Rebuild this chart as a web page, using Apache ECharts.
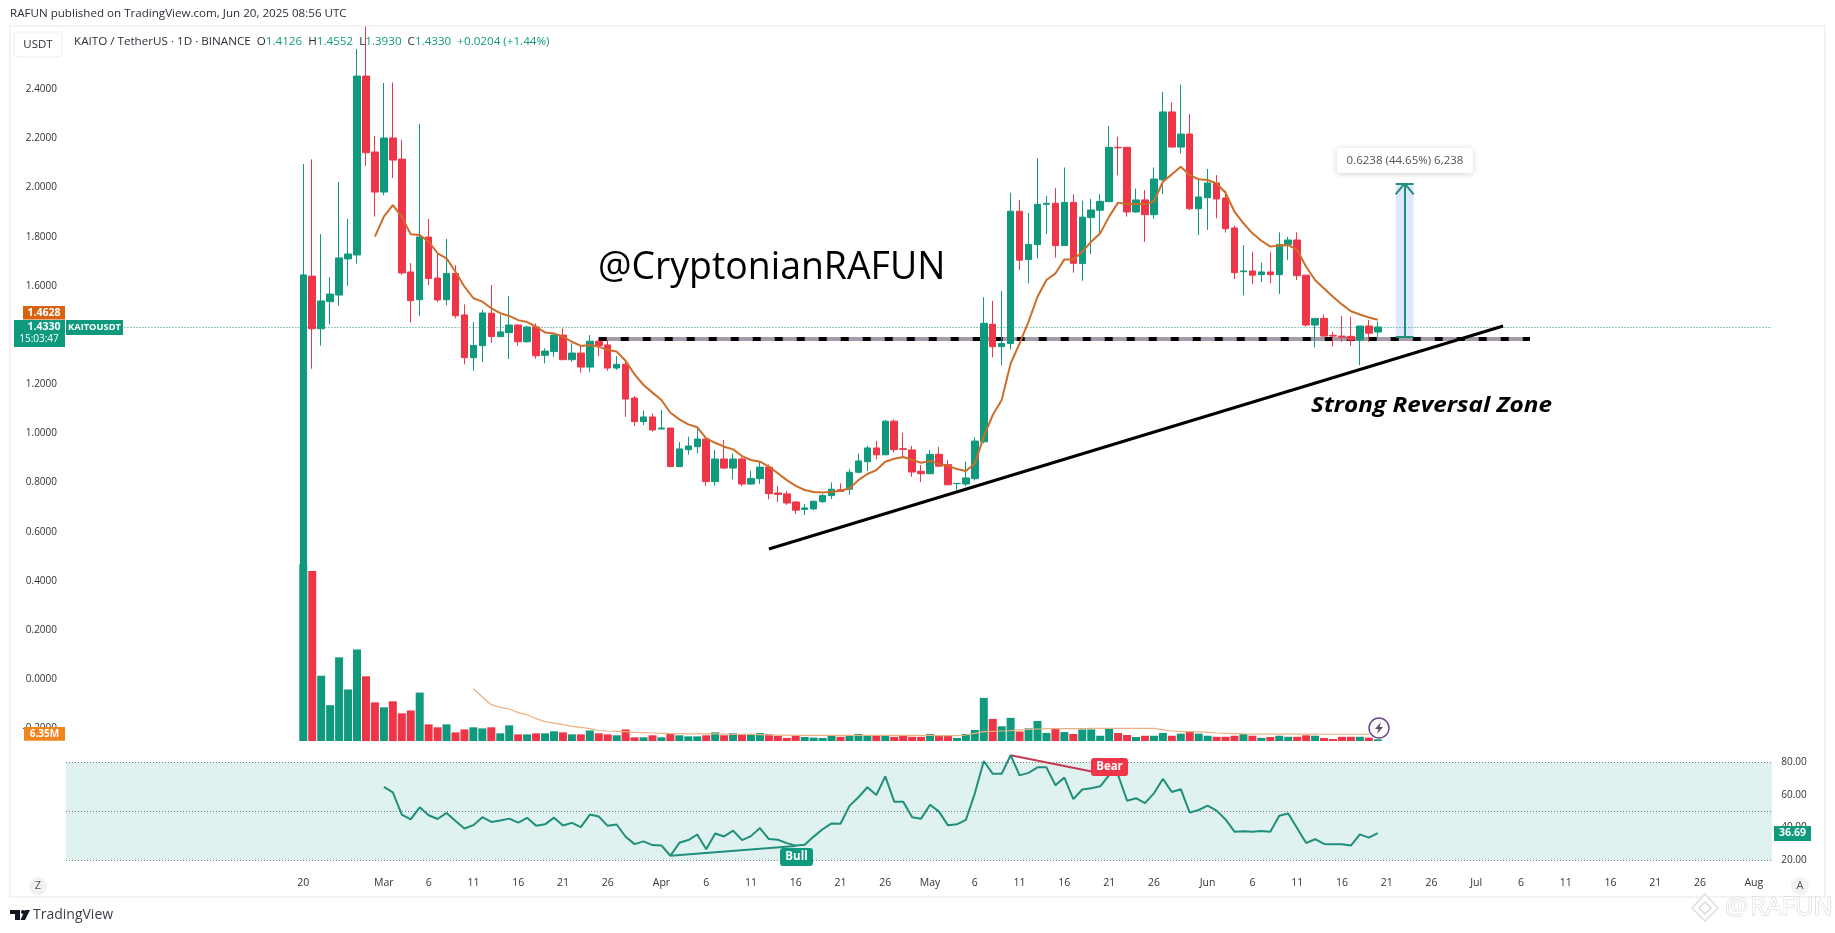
<!DOCTYPE html>
<html><head><meta charset="utf-8">
<style>html,body{margin:0;padding:0;background:#fff}#c{width:1835px;height:933px}</style>
<script src="https://cdn.jsdelivr.net/npm/echarts@6/dist/echarts.min.js"></script>
</head><body><div id="c"></div>
<script>
const opens=[0.45,1.640,1.426,1.536,1.563,1.710,1.726,2.454,2.145,1.982,
2.202,2.116,1.657,1.544,1.799,1.632,1.544,1.651,1.482,1.308,
1.357,1.489,1.394,1.410,1.441,1.373,1.433,1.318,1.333,1.400,
1.300,1.327,1.270,1.375,1.360,1.266,1.281,1.144,1.048,1.067,
1.018,1.022,0.865,0.934,0.946,0.977,0.804,0.896,0.859,0.896,
0.794,0.816,0.863,0.758,0.754,0.721,0.691,0.693,0.722,0.747,
0.771,0.773,0.842,0.885,0.941,0.913,1.050,0.938,0.933,0.846,
0.836,0.915,0.873,0.796,0.794,0.816,0.966,1.444,1.353,1.366,
1.904,1.707,1.768,1.932,1.936,1.764,1.940,1.691,1.878,1.908,
1.943,2.164,2.164,1.901,1.950,1.890,2.032,2.308,2.165,2.218,
1.914,1.959,2.019,1.958,1.836,1.658,1.661,1.646,1.657,1.646,
1.769,1.787,1.644,1.441,1.468,1.399,1.396,1.395,1.380,1.437,1.4126];
const closes=[1.645,1.426,1.539,1.567,1.714,1.730,2.454,2.142,1.982,2.202,
2.112,1.653,1.540,1.799,1.630,1.543,1.651,1.479,1.308,1.358,
1.490,1.394,1.413,1.441,1.373,1.433,1.316,1.335,1.400,1.300,
1.327,1.270,1.375,1.357,1.266,1.281,1.140,1.048,1.067,1.014,
1.022,0.865,0.937,0.949,0.977,0.804,0.896,0.859,0.896,0.794,
0.817,0.863,0.755,0.752,0.717,0.688,0.697,0.724,0.747,0.773,
0.764,0.842,0.888,0.941,0.913,1.050,0.934,0.935,0.843,0.836,
0.915,0.867,0.791,0.797,0.819,0.969,1.448,1.353,1.366,1.904,
1.705,1.769,1.932,1.936,1.764,1.940,1.692,1.880,1.909,1.944,
2.164,2.162,1.901,1.950,1.890,2.035,2.308,2.165,2.218,1.914,
1.962,2.019,1.954,1.833,1.654,1.661,1.644,1.657,1.646,1.769,
1.787,1.642,1.441,1.468,1.396,1.396,1.392,1.380,1.437,1.408,1.4330];
const highs=[2.096,2.115,1.811,1.636,2.022,1.872,2.564,2.655,2.210,2.426,
2.428,2.194,1.693,2.259,1.872,1.729,1.791,1.685,1.525,1.453,
1.502,1.604,1.482,1.559,1.445,1.438,1.448,1.346,1.410,1.428,
1.367,1.353,1.400,1.387,1.380,1.315,1.292,1.152,1.093,1.082,
1.095,1.022,0.965,0.987,1.021,0.984,0.933,0.973,0.919,0.905,
0.848,0.885,0.874,0.786,0.766,0.724,0.713,0.726,0.753,0.801,
0.797,0.855,0.919,0.949,0.970,1.055,1.057,1.003,0.949,0.872,
0.933,0.945,0.892,0.797,0.886,0.984,1.554,1.539,1.579,1.979,
1.950,1.897,2.119,1.966,1.998,2.082,1.973,1.947,1.954,1.974,
2.251,2.207,2.164,1.996,1.990,2.082,2.389,2.346,2.419,2.299,
2.031,2.076,2.051,1.988,1.846,1.766,1.739,1.695,1.739,1.818,
1.800,1.818,1.644,1.468,1.484,1.414,1.478,1.475,1.437,1.461,1.4552];
const lows=[0.45,1.263,1.357,1.444,1.520,1.600,1.691,2.088,1.882,1.969,
2.039,1.645,1.451,1.478,1.604,1.535,1.521,1.468,1.281,1.255,
1.291,1.369,1.391,1.303,1.357,1.369,1.304,1.285,1.312,1.300,
1.292,1.247,1.251,1.315,1.255,1.258,1.068,1.030,1.034,1.007,
1.018,0.865,0.863,0.914,0.919,0.787,0.787,0.855,0.813,0.786,
0.791,0.794,0.732,0.721,0.709,0.672,0.668,0.688,0.718,0.733,
0.762,0.751,0.838,0.847,0.895,0.912,0.922,0.903,0.824,0.802,
0.835,0.865,0.790,0.770,0.785,0.809,0.960,1.310,1.276,1.342,
1.665,1.611,1.712,1.811,1.715,1.764,1.654,1.621,1.730,1.814,
1.943,2.050,1.882,1.898,1.779,1.874,1.974,2.165,2.139,1.909,
1.807,1.828,1.875,1.817,1.628,1.562,1.608,1.616,1.611,1.567,
1.705,1.624,1.434,1.350,1.394,1.353,1.373,1.356,1.278,1.373,1.3930];
// EMA starts on the 9th candle
const emaValues=[1.801,1.882,1.929,1.882,1.810,1.807,1.780,1.733,1.712,1.658,
1.597,1.550,1.536,1.509,1.489,1.478,1.461,1.453,1.434,1.411,
1.407,1.394,1.373,1.356,1.360,1.353,1.339,1.333,1.296,1.240,
1.197,1.166,1.136,1.084,1.057,1.037,1.025,0.980,0.962,0.946,
0.935,0.908,0.892,0.885,0.865,0.838,0.810,0.787,0.770,0.762,
0.760,0.763,0.767,0.777,0.810,0.835,0.851,0.885,0.897,0.904,
0.892,0.881,0.888,0.876,0.869,0.855,0.847,0.878,0.987,1.075,
1.136,1.285,1.366,1.455,1.556,1.624,1.651,1.708,1.708,1.739,
1.780,1.814,1.882,1.939,1.933,1.933,1.933,1.943,2.024,2.054,
2.085,2.051,2.034,2.031,2.017,1.979,1.902,1.855,1.814,1.784,
1.760,1.765,1.767,1.746,1.678,1.624,1.590,1.556,1.525,1.497,
1.484,1.472,1.4628];
const volumes=[168,161.5,62,34,79.5,49,87,61.5,36.7,32,
37.7,26.3,29,46,15.8,13,15.8,8.2,11,13,
12,13,7.3,14.9,6.3,6.3,7.3,7.3,9.2,8.2,
6.3,6.3,10,7.3,6.3,5.4,11,3.5,3.5,5.4,
3.5,7.3,5.4,4.4,4.4,5.4,8.2,5.4,7.3,6.3,
6.3,7.5,6.3,5,2.9,5,3.8,3.2,2.9,5,
4,5,6.7,5,5,5,4,5.4,4,4,
6.7,4.8,4.8,2.9,6.7,10.5,41,21,14,22,
9,12,19,7.6,12,8.5,6.7,11,11,5,
11.7,7.6,5.7,3.8,5,5,7.6,5,7,9.5,
7,5,4,4,5,6.7,5,3,3.8,5,
4,4,5.4,5,2.9,1.9,4,4,4,3.2,1.6];
// Volume moving average starts on the 20th bar
const volumeMA=[49.7,41.8,34.5,32,30.4,27,25,21.2,18.4,17,
15.5,13.9,13,11.7,10,9.5,9.2,8.9,8.2,7.9,
7.6,7.3,7,7,6.7,6.7,6.7,6.7,6.6,6.3,
6.3,6.3,6,5.7,5.6,5.5,5.4,5.4,5.4,5.3,
5.3,5.3,5.3,5.3,5.3,5.3,5.3,5.3,5.3,5.3,
5.3,5.3,5.2,5.2,5.2,5.7,7.3,8.9,9.2,9.5,
9.8,10.5,11,11.4,11.7,11.7,11.7,11.7,11.7,12,
12,12,12,12,12,12,12,10.5,9.5,8.9,
8.9,8.6,8.2,7.6,7.3,7,6.7,6.6,6.6,6.5,
6.5,6.5,6.5,6.5,6.5,6.4,6.4,6.4,6.4,6.4,6.35];
// RSI starts on the 10th candle
const rsiValues=[65,61.6,48,45,52.4,47.6,45.3,49,44,39.5,
41.5,46.4,43.5,44.3,45.5,43.1,46,41.1,42,46.1,
41.3,42.9,40.3,48,46.8,41.1,41.9,34.4,29.9,31.6,
29.3,29.1,22.8,30.7,32.4,35.8,26.7,36.4,34.6,38.2,
32.4,34.8,39.7,33,32.6,30.5,29,29.5,34.5,39,
42.6,42.4,53.3,58.6,64.7,60,71.4,55.9,55.9,46.3,
45.5,54,49.8,41.4,42,44.7,61,80.8,72.9,73,
84.3,72,73.5,76.9,76.9,65.9,70.6,57.5,63.3,64.1,
65.3,72.2,72.2,56.5,58,55,61,69.8,61.8,63.5,
49.2,50.8,53.5,50.4,45,37.5,37.8,37.5,38,37.5,
47.3,48.6,39.6,30.6,32.9,30,29.8,29.8,29,35.9,33.9,36.69];
const priceTicks=[-0.2,0,0.2,0.4,0.6,0.8,1,1.2,1.4,1.6,1.8,2,2.2,2.4,2.6];
const rsiTicks=[20,40,60,80];
const dateTickLabels={"Feb 20":"20","Mar 1":"Mar","Mar 6":"6","Mar 11":"11","Mar 16":"16","Mar 21":"21","Mar 26":"26",
"Apr 1":"Apr","Apr 6":"6","Apr 11":"11","Apr 16":"16","Apr 21":"21","Apr 26":"26",
"May 1":"May","May 6":"6","May 11":"11","May 16":"16","May 21":"21","May 26":"26",
"Jun 1":"Jun","Jun 6":"6","Jun 11":"11","Jun 16":"16","Jun 21":"21","Jun 26":"26",
"Jul 1":"Jul","Jul 6":"6","Jul 11":"11","Jul 16":"16","Jul 21":"21","Jul 26":"26","Aug 1":"Aug"};
const monthNames=["Jan","Feb","Mar","Apr","May","Jun","Jul","Aug"];
const monthLengths=[31,28,31,30,31,30,31,31];
const categories=[];
for(let m=0;m<8;m++)for(let d=1;d<=monthLengths[m];d++){
  if((m===0&&d<25)||(m===7&&d>3))continue;
  categories.push(monthNames[m]+" "+d);
}
const lead=categories.indexOf("Feb 20");
const pad=n=>Array(n).fill('-');
const UP='#0f9a7d',DOWN='#ef3648',TXT='#2a2e39';
const FONT='"Open Sans","Noto Sans",sans-serif';
const candleData=pad(lead).map(()=>[NaN,NaN,NaN,NaN]).concat(opens.map((o,i)=>[o,closes[i],lows[i],highs[i]]));
const volData=pad(lead).concat(volumes.map((v,i)=>({value:v,itemStyle:{color:closes[i]>=opens[i]?UP:DOWN}})));
const emaData=pad(lead+8).concat(emaValues);
const volMAData=pad(lead+19).concat(volumeMA);
const rsiData=pad(lead+9).concat(rsiValues);
const lastPrice=1.433,zoneLevel=1.384,measLow=1.3935,measHigh=2.0173;

const gridL=66,gridW=191*8.954;
const ln=(a,b,color,width,type)=>[{coord:a,lineStyle:{color,width,type:type||'solid',cap:'butt',opacity:1}},{coord:b}];
const text=(x,y,t,o,extra)=>Object.assign({type:'text',x,y,z:50,silent:true,style:Object.assign({text:t,font:'11px '+FONT,fill:TXT,align:'left',verticalAlign:'middle'},o||{})},extra||{});
const box=(x,y,w,h,fill,r,extra)=>({type:'rect',z:40,silent:true,shape:{x,y,width:w,height:h,r:r||0},style:Object.assign({fill},extra||{})});
const poly=(points,style)=>({type:'polygon',z:41,silent:true,shape:{points},style});

const hiddenAxis={axisLine:{show:false},axisTick:{show:false},splitLine:{show:false}};
const opt={
animation:false,backgroundColor:'#fff',
grid:[
 {left:gridL,top:25.4,width:gridW,height:703},
 {left:gridL,top:530.5,width:gridW,height:210.5},
 {left:gridL,top:729.6,width:gridW,height:130.7},
 {left:gridL,top:762.3,width:1706,height:98,show:true,backgroundColor:'#dff2ef',borderWidth:0}
],
xAxis:[0,1,2].map(g=>Object.assign({type:'category',gridIndex:g,data:categories,boundaryGap:true,
 axisLabel:g<2?{show:false}:{show:true,margin:17,fontSize:10.5,fontFamily:FONT,color:'#333',
   interval:(i,v)=>v in dateTickLabels,formatter:v=>dateTickLabels[v]||''}},hiddenAxis)).concat([
 {type:'value',gridIndex:3,show:false,min:0,max:1}]),
yAxis:[
 Object.assign({type:'value',gridIndex:0,min:priceTicks[0],max:2.66,interval:0.2,position:'left',
  axisLabel:{margin:9,showMaxLabel:false,fontSize:10,fontFamily:FONT,color:'#333',formatter:v=>v.toFixed(4)}},hiddenAxis),
 Object.assign({type:'value',gridIndex:1,min:0,max:200,axisLabel:{show:false}},hiddenAxis),
 Object.assign({type:'value',gridIndex:2,min:rsiTicks[0],max:100,interval:20,position:'right',
  axisLabel:{margin:5,showMaxLabel:false,fontSize:10,fontFamily:FONT,color:'#333',formatter:v=>v.toFixed(2)}},hiddenAxis),
 {type:'value',gridIndex:3,min:20,max:80,interval:30,axisLine:{show:false},axisTick:{show:false},axisLabel:{show:false},
  splitLine:{show:true,lineStyle:{color:'#787b86',width:1,type:[1,2]}}}
],
series:[
 {type:'line',name:'RSI bands',xAxisIndex:3,yAxisIndex:3,data:[],silent:true},
 {type:'line',name:'Levels',xAxisIndex:0,yAxisIndex:0,data:[],z:1,silent:true,
  markLine:{z:1,silent:true,symbol:'none',animation:false,label:{show:false},data:[
   ln(["Jan 25",lastPrice],["Aug 3",lastPrice],'#1e9a84',1,[1,2]),
   ln(["Mar 25",zoneLevel],["Jul 7",zoneLevel],'#a79aaa',4),
   ln(["Mar 25",zoneLevel],["Jul 7",zoneLevel],'#000',4,[8,14]),
   ln(["Apr 13",0.530],["Jul 4",1.437],'#000',3)
  ]},
  markArea:{z:1,silent:true,itemStyle:{color:'#dfe9fb'},data:[[{coord:["Jun 22",measHigh]},{coord:["Jun 24",measLow]}]]}
 },
 {type:'bar',name:'Volume',xAxisIndex:1,yAxisIndex:1,barWidth:8,data:volData,z:2,silent:true},
 {type:'line',name:'Volume MA',xAxisIndex:1,yAxisIndex:1,data:volMAData,showSymbol:false,z:3,silent:true,lineStyle:{color:'#eab183',width:1.2}},
 {type:'candlestick',name:'KAITOUSDT',xAxisIndex:0,yAxisIndex:0,data:candleData,barWidth:7,z:4,silent:true,
  itemStyle:{color:UP,color0:DOWN,borderColor:UP,borderColor0:DOWN,borderWidth:1}},
 {type:'line',name:'EMA',xAxisIndex:0,yAxisIndex:0,data:emaData,showSymbol:false,z:5,silent:true,lineStyle:{color:'#cc6d28',width:2}},
 {type:'line',name:'Measure',xAxisIndex:0,yAxisIndex:0,data:[],z:6,silent:true,
  markLine:{z:6,silent:true,symbol:'none',animation:false,label:{show:false},data:[
   ln(["Jun 23",measLow],["Jun 23",measHigh],'#1f8f7b',2),
   ln(["Jun 22",measHigh],["Jun 24",measHigh],'#1f8f7b',2),
   ln(["Jun 22",measLow],["Jun 24",measLow],'#1f8f7b',2),
   ln(["Jun 22",measHigh-0.045],["Jun 23",measHigh],'#1f8f7b',2),
   ln(["Jun 24",measHigh-0.045],["Jun 23",measHigh],'#1f8f7b',2)
  ]}},
 {type:'line',name:'RSI',xAxisIndex:2,yAxisIndex:2,data:rsiData,showSymbol:false,z:5,silent:true,lineStyle:{color:'#1f8f7b',width:2},
  markLine:{z:2,silent:true,symbol:'none',animation:false,label:{show:false},data:[
   ln(["Apr 2",22.8],["Apr 16",28.7],'#1f8f7b',2),
   ln(["May 10",84.3],["May 21",72.2],'#c43a50',2)
  ]}}
],
graphic:[
 {type:'rect',z:0,silent:true,shape:{x:10,y:26,width:1815,height:871},style:{fill:'none',stroke:'#f0f0f2',lineWidth:1.5}},
 text(10,14,'RAFUN published on TradingView.com, Jun 20, 2025 08:56 UTC',{font:'11.6px '+FONT,fill:'#2a2e39'}),
 box(14,32,48,25,'#fff',3,{stroke:'#eeeef0',lineWidth:1}),
 text(38,45,'USDT',{font:'11.5px '+FONT,align:'center'}),
 {type:'text',x:74,y:42,z:50,silent:true,style:{
   verticalAlign:'middle',font:'11.65px '+FONT,
   rich:{b:{fill:TXT,font:'11.65px '+FONT},g:{fill:UP,font:'11.65px '+FONT}},
   text:'{b|KAITO / TetherUS · 1D · BINANCE  O}{g|1.4126}{b|  H}{g|1.4552}{b|  L}{g|1.3930}{b|  C}{g|1.4330}{g|  +0.0204 (+1.44%)}'}},
 box(23,306,42,13.5,'#d9620f'),
 text(44,313,'1.4628',{fill:'#fff',align:'center',font:'bold 10.5px '+FONT}),
 box(14,320,51,27,UP),
 text(44,327.5,'1.4330',{fill:'#fff',align:'center',font:'bold 10.5px '+FONT}),
 text(39,339.5,'15:03:47',{fill:'#fff',align:'center',font:'10px '+FONT}),
 box(66,320,57,15,UP),
 text(94.5,327.5,'KAITOUSDT',{fill:'#fff',align:'center',font:'bold 9.3px '+FONT}),
 box(24,727,41,13.7,'#f0851f'),
 text(44.5,734,'6.35M',{fill:'#fff',align:'center',font:'bold 10px '+FONT}),
 box(1774,826,37,15,UP),
 text(1792.5,833.5,'36.69',{fill:'#fff',align:'center',font:'bold 10.5px '+FONT}),
 text(598,268,'@CryptonianRAFUN',{font:'37.4px '+FONT,fill:'#000'}),
 text(1311,406,'Strong Reversal Zone',{font:'italic bold 22px '+FONT,fill:'#000'},{scaleX:1.105,originX:0,originY:0}),
 box(1337,148,136,25,'#fff',3,{shadowBlur:6,shadowColor:'rgba(0,0,0,.18)',shadowOffsetY:1}),
 text(1405,160.5,'0.6238 (44.65%) 6,238',{align:'center',font:'11.5px '+FONT,fill:'#50535e'}),
 box(780,848,33,18,UP,3),
 text(796.5,857,'Bull',{fill:'#fff',align:'center',font:'bold 11.5px '+FONT}),
 box(1091,758,37,18,DOWN,3),
 text(1109.5,767,'Bear',{fill:'#fff',align:'center',font:'bold 11.5px '+FONT}),
 {type:'circle',z:40,silent:true,shape:{cx:1379,cy:728,r:10},style:{fill:'#fff',stroke:'#6b4a8c',lineWidth:1.5}},
 poly([[1381,722],[1375,729],[1378.5,729],[1377,734],[1383,727],[1379.5,727]],{fill:'#5d4f6e'}),
 {type:'circle',z:40,silent:true,shape:{cx:38,cy:886,r:9},style:{fill:'#f2f2f3'}},
 text(38,886,'Z',{align:'center',fill:'#555'}),
 {type:'circle',z:40,silent:true,shape:{cx:1800,cy:886,r:9},style:{fill:'#f2f2f3'}},
 text(1800,886,'A',{align:'center',fill:'#555'}),
 poly([[10,910],[20,910],[20,920],[15,920],[15,914],[10,914]],{fill:'#131722'}),
 {type:'circle',z:41,silent:true,shape:{cx:23,cy:912,r:2},style:{fill:'#131722'}},
 poly([[25,910],[30,910],[25,920],[20.5,920]],{fill:'#131722'}),
 text(33,915.5,'TradingView',{font:'14px '+FONT,fill:'#3a3e49'}),
 poly([[1705,894],[1718,908],[1705,921],[1692,908]],{fill:'#fff',stroke:'#dcdcdc',lineWidth:1.5}),
 poly([[1705,902],[1711,908],[1705,914],[1699,908]],{fill:'#fff',stroke:'#dcdcdc',lineWidth:1.5}),
 text(1725,908,'@',{font:'26px '+FONT,fill:'#fff',stroke:'#d0d0d0',lineWidth:1}),
 text(1750,908,'RAFUN',{font:'25.5px '+FONT,fill:'#fff',stroke:'#d0d0d0',lineWidth:1})
]};
const chart=echarts.init(document.getElementById('c'),null,{renderer:'canvas',width:1835,height:933});
chart.setOption(opt);
</script></body></html>
